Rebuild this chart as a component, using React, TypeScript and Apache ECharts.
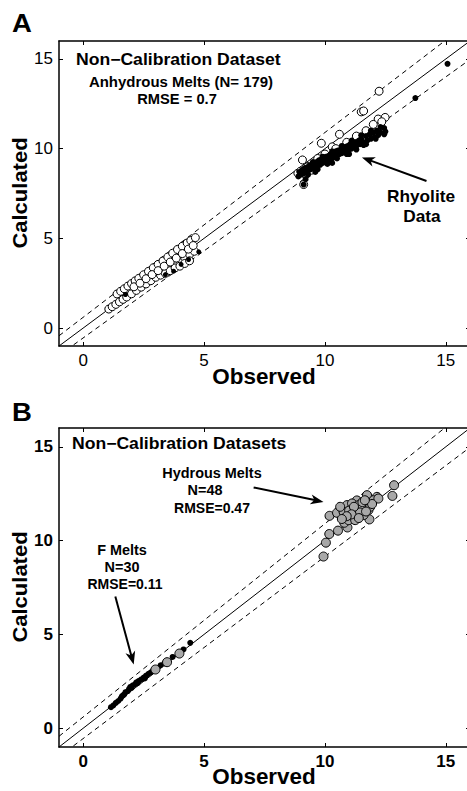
import React, { useEffect, useRef } from "react";
import * as echarts from "echarts";

// ---- axes ----
const tickValues = [0, 5, 10, 15];
const axisMin = -1;
const axisMax = 16;

// ---- reference lines ----
const identityLine = [[-1, -1], [16, 16]];
const upperBand = [[-1, -0.43], [16, 17.08]];
const lowerBand = [[-1, -1.52], [16, 14.97]];

// ---- Panel A: anhydrous melts ----
const anhydrousOpenLow = [
  [1.4, 1.9], [1.55, 2.05], [1.7, 2.19], [1.85, 2.34], [2.0, 2.48], [2.15, 2.63], [2.3, 2.77],
  [2.5, 2.97], [2.7, 3.16], [2.9, 3.36], [3.1, 3.55], [3.3, 3.74], [3.5, 3.96], [3.7, 4.17],
  [3.9, 4.38], [4.1, 4.56], [4.3, 4.74], [4.45, 4.88], [4.64, 5.04],
  [1.06, 1.06], [1.2, 1.19], [1.35, 1.32], [1.5, 1.46], [1.65, 1.6], [1.8, 1.73], [2.0, 1.91],
  [2.2, 2.1], [2.4, 2.28], [2.6, 2.46], [2.8, 2.64], [3.0, 2.83], [3.2, 3.01], [3.4, 3.19],
  [3.6, 3.37], [3.8, 3.56], [4.0, 3.74], [4.2, 3.92], [4.4, 4.1], [4.6, 4.28],
  [3.2, 2.95], [3.4, 3.05], [3.6, 3.2], [3.8, 3.35], [4.0, 3.45], [4.2, 3.6], [4.4, 3.75],
  [2.1, 2.3], [2.35, 2.5], [2.6, 2.75], [2.85, 2.98], [3.1, 3.2], [3.35, 3.45], [3.6, 3.68],
  [3.85, 3.9], [4.1, 4.15], [4.35, 4.4], [4.55, 4.6],
];
const anhydrousDotsLow = [
  [4.78, 4.25], [4.36, 3.82], [3.74, 3.17], [3.4, 2.98], [4.05, 3.55], [1.75, 1.87],
];
const anhydrousOpenHigh = [
  [8.88, 8.63], [9.07, 9.37], [9.12, 8.0], [9.53, 9.13], [9.85, 10.3], [10.3, 10.1], [10.6, 10.8],
  [11.5, 12.05], [11.6, 12.1], [12.24, 13.2], [12.2, 11.65], [12.49, 11.74], [9.0, 8.75],
  [9.3, 9.0], [9.7, 9.45], [10.0, 9.7], [10.45, 10.0], [10.9, 10.35], [11.3, 10.7], [11.7, 11.0],
  [12.0, 11.35], [12.35, 11.5], [9.2, 8.55], [9.45, 8.8],
];
const rhyoliteDots = [
  [8.9, 8.45], [8.95, 8.7], [9.0, 8.55], [9.05, 8.8], [9.1, 8.6], [9.15, 8.9], [9.2, 8.7],
  [9.25, 8.95], [9.3, 8.75], [9.35, 9.05], [9.4, 8.85], [9.45, 9.1], [9.5, 8.9], [9.55, 9.2],
  [9.6, 9.0], [9.65, 9.25], [9.7, 9.05], [9.75, 9.35], [9.8, 9.1], [9.85, 9.4], [9.9, 9.2],
  [9.95, 9.45], [10.0, 9.25], [10.05, 9.55], [10.1, 9.35], [10.15, 9.6], [10.2, 9.4],
  [10.25, 9.7], [10.3, 9.45], [10.35, 9.75], [10.4, 9.55], [10.45, 9.85], [10.5, 9.6],
  [10.55, 9.9], [10.6, 9.7], [10.65, 9.95], [10.7, 9.75], [10.75, 10.05], [10.8, 9.8],
  [10.85, 10.1], [10.9, 9.9], [10.95, 10.15], [11.0, 9.95], [11.05, 10.25], [11.1, 10.0],
  [11.15, 10.3], [11.2, 10.1], [11.25, 10.35], [11.3, 10.15], [11.4, 10.45], [11.45, 10.25],
  [11.5, 10.55], [11.6, 10.35], [11.7, 10.7], [11.75, 10.45], [11.85, 10.8], [11.9, 10.55],
  [12.0, 10.9], [12.05, 10.65], [12.15, 11.0], [12.3, 10.9], [12.45, 11.15], [12.5, 10.95],
  [9.12, 8.0], [9.2, 8.3], [9.6, 8.7], [10.3, 9.2], [11.0, 9.7], [11.6, 10.2],
  [9.3, 8.55], [9.7, 8.85], [10.1, 9.15], [10.5, 9.45], [10.9, 9.7], [11.3, 9.95],
  [11.7, 10.25], [12.1, 10.55], [9.5, 9.25], [9.9, 9.55], [10.3, 9.85], [10.7, 10.15],
  [11.1, 10.45], [11.5, 10.75], [11.9, 11.0], [12.3, 11.2], [12.45, 10.8], [12.2, 10.75],
  [13.74, 12.82], [15.07, 14.73],
];

// ---- Panel B: hydrous and F melts ----
const hydrousMelts = [
  [9.94, 9.15], [10.04, 9.89], [10.18, 10.35], [10.54, 10.53], [10.19, 11.32], [10.5, 11.48],
  [10.93, 10.7], [10.8, 10.95], [11.84, 11.13], [12.86, 12.95], [12.79, 12.38], [12.15, 12.33],
  [11.74, 12.42], [11.32, 12.14], [10.91, 11.89], [11.12, 11.98], [11.39, 11.89], [11.67, 11.89],
  [12.01, 12.15], [10.77, 11.53], [11.18, 11.62], [11.53, 11.71], [11.8, 11.62], [11.32, 11.36],
  [11.05, 11.27], [11.6, 11.36], [10.98, 11.09], [11.25, 11.09], [11.87, 11.8], [10.63, 11.8],
  [12.21, 12.24], [11.45, 11.5], [11.0, 11.6], [11.55, 12.05], [11.95, 11.95], [11.2, 11.8],
  [11.7, 11.55], [11.1, 11.4], [10.9, 11.3], [11.4, 11.2], [11.65, 12.15], [10.7, 11.15],
];
const fMeltsDots = [
  [1.15, 1.12], [1.25, 1.22], [1.35, 1.35], [1.45, 1.45], [1.55, 1.58], [1.6, 1.7], [1.7, 1.8],
  [1.75, 1.92], [1.85, 1.98], [1.9, 2.1], [2.0, 2.15], [2.05, 2.28], [2.15, 2.35], [2.2, 2.45],
  [2.3, 2.52], [2.4, 2.6], [2.5, 2.7], [2.6, 2.8], [2.7, 2.9], [2.8, 2.98], [2.9, 3.1],
  [3.2, 3.35], [3.35, 3.45], [3.7, 3.8], [4.15, 4.2], [4.43, 4.55], [1.65, 1.75], [1.95, 2.2],
  [2.25, 2.4], [2.55, 2.65],
];
const fMeltsCircles = [[2.99, 3.13], [3.47, 3.52], [3.98, 3.98]];

// ---- annotation arrows (data coordinates: from tail to tip) ----
const arrowRhyolite = { grid: 0, from: [14.2, 8.2], to: [11.53, 9.51] };
const arrowHydrous = { grid: 1, from: [7.05, 12.83], to: [9.94, 12.06] };
const arrowFMelts = { grid: 1, from: [1.33, 7.02], to: [2.09, 3.4] };

const FONT = "'Liberation Sans', Arial, Helvetica, sans-serif";

export default function App() {
  const ref = useRef<HTMLDivElement>(null);

  useEffect(() => {
    if (!ref.current) return;
    const chart = echarts.init(ref.current, null, { renderer: "svg" });

    const grids = [
      { left: 59, top: 41, width: 411, height: 305 },
      { left: 59, top: 428, width: 411, height: 319 },
    ];
    const axisLineStyle = { color: "#000", width: 1.5 };
    const xAxes: any[] = [];
    const yAxes: any[] = [];
    grids.forEach((_, i) => {
      const weight = i === 1 ? "bold" : "normal";
      const base = {
        type: "value",
        gridIndex: i,
        min: axisMin,
        max: axisMax,
        splitLine: { show: false },
        axisLine: { show: true, onZero: false, lineStyle: axisLineStyle },
        axisTick: {
          show: true,
          inside: true,
          length: 4,
          customValues: tickValues,
          lineStyle: { color: "#000", width: 1 },
        },
      };
      const label = {
        show: true,
        customValues: tickValues,
        margin: 6,
        color: "#000",
        fontSize: 17,
        fontFamily: FONT,
        fontWeight: weight,
      };
      xAxes.push({ ...base, position: "bottom", axisLabel: label });
      xAxes.push({ ...base, position: "top", axisLabel: { show: false } });
      yAxes.push({ ...base, position: "left", axisLabel: label });
      yAxes.push({ ...base, position: "right", axisLabel: { show: false } });
    });

    const line = (i: number, data: number[][], dashed: boolean) => ({
      type: "line",
      xAxisIndex: 2 * i,
      yAxisIndex: 2 * i,
      data,
      symbol: "none",
      silent: true,
      clip: true,
      lineStyle: { color: "#000", width: 1, type: dashed ? [5, 4] : "solid" },
      z: 1,
    });
    const scatter = (
      i: number,
      data: number[][],
      size: number,
      fill: string,
      border: number,
      z: number
    ) => ({
      type: "scatter",
      xAxisIndex: 2 * i,
      yAxisIndex: 2 * i,
      data,
      symbol: "circle",
      symbolSize: size,
      itemStyle: { color: fill, borderColor: "#000", borderWidth: border, opacity: 1 },
      z,
    });

    chart.setOption({
      animation: false,
      backgroundColor: "#fff",
      grid: grids,
      xAxis: xAxes,
      yAxis: yAxes,
      series: [
        line(0, identityLine, false),
        line(0, upperBand, true),
        line(0, lowerBand, true),
        scatter(0, anhydrousOpenLow, 8, "#fff", 1, 3),
        scatter(0, anhydrousOpenHigh, 8, "#fff", 1, 3),
        scatter(0, anhydrousDotsLow, 5, "#000", 0, 4),
        scatter(0, rhyoliteDots, 6, "#000", 0, 4),
        line(1, identityLine, false),
        line(1, upperBand, true),
        line(1, lowerBand, true),
        scatter(1, hydrousMelts, 9, "#a8a8a8", 1, 3),
        scatter(1, fMeltsDots, 6, "#000", 0, 4),
        scatter(1, fMeltsCircles, 9, "#a8a8a8", 1, 5),
      ],
    });

    const text = (
      t: string,
      x: number,
      y: number,
      size: number,
      align: string,
      scaleX = 1,
      rotation = 0
    ) => ({
      type: "text",
      x,
      y,
      scaleX,
      rotation,
      z: 100,
      style: {
        text: t,
        fontSize: size,
        fontWeight: "bold",
        fontFamily: FONT,
        fill: "#000",
        align,
        verticalAlign: "middle",
      },
    });

    const arrow = (a: { grid: number; from: number[]; to: number[] }) => {
      const p0 = chart.convertToPixel({ gridIndex: a.grid }, a.from) as number[];
      const p1 = chart.convertToPixel({ gridIndex: a.grid }, a.to) as number[];
      const dx = p1[0] - p0[0];
      const dy = p1[1] - p0[1];
      const len = Math.hypot(dx, dy);
      const ux = dx / len;
      const uy = dy / len;
      const nx = -uy;
      const ny = ux;
      const L = 13;
      const W = 5;
      const bx = p1[0] - ux * L;
      const by = p1[1] - uy * L;
      return [
        {
          type: "line",
          z: 100,
          shape: { x1: p0[0], y1: p0[1], x2: p1[0] - ux * L * 0.6, y2: p1[1] - uy * L * 0.6 },
          style: { stroke: "#000", lineWidth: 2 },
        },
        {
          type: "polygon",
          z: 100,
          shape: {
            points: [
              [p1[0], p1[1]],
              [bx + nx * W, by + ny * W],
              [p1[0] - ux * L * 0.72, p1[1] - uy * L * 0.72],
              [bx - nx * W, by - ny * W],
            ],
          },
          style: { fill: "#000" },
        },
      ];
    };

    chart.setOption({
      graphic: [
        text("A", 22, 23, 25, "center", 1.1),
        text("B", 22, 412, 25, "center", 1.1),
        text("Calculated", 19.5, 193, 20, "center", 1.1, Math.PI / 2),
        text("Calculated", 19.5, 587, 20, "center", 1.1, Math.PI / 2),
        text("Observed", 264, 377, 22, "center", 1.02),
        text("Observed", 264, 777, 22, "center", 1.02),
        text("Non\u2212Calibration Dataset", 76, 60, 16, "left", 1.1),
        text("Anhydrous Melts (N= 179)", 181, 82, 14, "center", 1.07),
        text("RMSE = 0.7", 177, 99, 14, "center", 1.05),
        text("Rhyolite", 421, 197, 16, "center", 1.08),
        text("Data", 422, 217, 16, "center", 1.08),
        text("Non\u2212Calibration Datasets", 72, 444, 16, "left", 1.1),
        text("Hydrous Melts", 212, 473, 14, "center", 1.03),
        text("N=48", 205, 490, 14, "center", 1.03),
        text("RMSE=0.47", 212, 508, 14, "center", 1.0),
        text("F Melts", 122, 550, 14, "center", 1.03),
        text("N=30", 122, 567, 14, "center", 1.03),
        text("RMSE=0.11", 125, 584, 14, "center", 1.0),
        ...arrow(arrowRhyolite),
        ...arrow(arrowHydrous),
        ...arrow(arrowFMelts),
      ],
    });

    return () => chart.dispose();
  }, []);

  return (
    <div
      style={{
        position: "fixed",
        left: 0,
        top: 0,
        width: 467,
        height: 791,
        overflow: "hidden",
        background: "#fff",
      }}
    >
      <div ref={ref} style={{ width: 470, height: 791 }} />
    </div>
  );
}
